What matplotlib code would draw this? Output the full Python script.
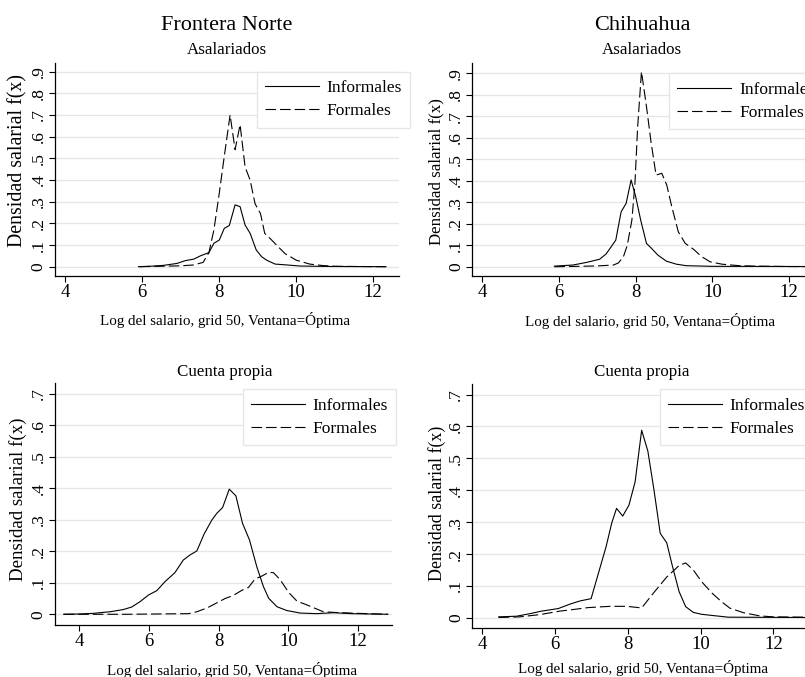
import matplotlib
matplotlib.use("Agg")
import matplotlib.pyplot as plt
import numpy as np

plt.rcParams['font.family'] = ['Liberation Serif', 'DejaVu Serif']

# ---------------- data ----------------
state_titles = ["Frontera Norte", "Chihuahua"]
panel_subtitles = ["Asalariados", "Cuenta propia"]
series_labels = ["Informales", "Formales"]
x_label = "Log del salario, grid 50, Ventana=Óptima"
y_label = "Densidad salarial f(x)"
x_ticks = [4, 6, 8, 10, 12]
y_ticks_top = [0, .1, .2, .3, .4, .5, .6, .7, .8, .9]
y_ticklabels_top = ["0", ".1", ".2", ".3", ".4", ".5", ".6", ".7", ".8", ".9"]
y_ticks_bot = [0, .1, .2, .3, .4, .5, .6, .7]
y_ticklabels_bot = ["0", ".1", ".2", ".3", ".4", ".5", ".6", ".7"]

# Frontera Norte - Asalariados
fn_asal_inf_x = [5.90, 6.20, 6.55, 6.90, 7.12, 7.34, 7.51, 7.73, 7.86, 8.00, 8.13, 8.26, 8.41, 8.54,
                 8.67, 8.80, 8.96, 9.10, 9.23, 9.45, 9.75, 10.10, 10.87, 12.33]
fn_asal_inf_y = [0.000, 0.002, 0.006, 0.015, 0.028, 0.035, 0.050, 0.065, 0.108, 0.123, 0.177, 0.190, 0.285, 0.277,
                 0.192, 0.154, 0.077, 0.046, 0.030, 0.012, 0.008, 0.003, 0.001, 0.000]
fn_asal_for_x = [5.93, 6.50, 7.00, 7.34, 7.58, 7.73, 7.86, 8.00, 8.13, 8.28, 8.41, 8.54, 8.67, 8.80,
                 8.93, 9.07, 9.18, 9.36, 9.53, 9.71, 10.00, 10.35, 10.70, 11.00, 11.50, 12.33]
fn_asal_for_y = [0.000, 0.002, 0.004, 0.008, 0.020, 0.065, 0.170, 0.340, 0.510, 0.700, 0.540, 0.655, 0.460, 0.400,
                 0.290, 0.245, 0.154, 0.123, 0.092, 0.060, 0.030, 0.012, 0.005, 0.002, 0.001, 0.000]

# Chihuahua - Asalariados
ch_asal_inf_x = [5.88, 6.36, 6.71, 7.06, 7.23, 7.36, 7.48, 7.62, 7.75, 7.88, 8.00, 8.13, 8.28, 8.41,
                 8.58, 8.80, 9.06, 9.32, 10.00, 12.90]
ch_asal_inf_y = [0.003, 0.008, 0.020, 0.035, 0.060, 0.093, 0.124, 0.256, 0.295, 0.404, 0.326, 0.217, 0.109, 0.086,
                 0.054, 0.026, 0.012, 0.005, 0.002, 0.001]
ch_asal_for_x = [5.88, 6.50, 7.00, 7.42, 7.55, 7.68, 7.78, 7.90, 7.98, 8.05, 8.15, 8.27, 8.40, 8.53,
                 8.68, 8.81, 8.94, 9.11, 9.29, 9.51, 9.72, 9.94, 10.25, 10.70, 11.10, 12.00, 12.90]
ch_asal_for_y = [0.000, 0.002, 0.004, 0.008, 0.018, 0.047, 0.100, 0.217, 0.388, 0.650, 0.908, 0.760, 0.580, 0.427,
                 0.435, 0.380, 0.280, 0.163, 0.109, 0.081, 0.047, 0.023, 0.012, 0.005, 0.003, 0.001, 0.001]

# Frontera Norte - Cuenta propia
fn_cp_inf_x = [3.55, 4.02, 4.40, 4.88, 5.26, 5.50, 5.74, 5.98, 6.22, 6.46, 6.74, 6.98, 7.17, 7.37,
               7.58, 7.80, 7.94, 8.11, 8.30, 8.49, 8.68, 8.88, 9.09, 9.28, 9.43, 9.67, 9.95, 10.33,
               10.80, 11.30, 11.80, 12.85]
fn_cp_inf_y = [0.000, 0.001, 0.003, 0.008, 0.015, 0.023, 0.040, 0.061, 0.075, 0.104, 0.132, 0.172, 0.188, 0.201,
               0.255, 0.299, 0.320, 0.339, 0.397, 0.376, 0.289, 0.236, 0.151, 0.088, 0.051, 0.024, 0.012, 0.004,
               0.002, 0.005, 0.002, 0.000]
fn_cp_for_x = [3.55, 5.35, 7.13, 7.37, 7.66, 7.94, 8.18, 8.42, 8.66, 8.85, 9.04, 9.23, 9.43, 9.57,
               9.76, 10.00, 10.24, 10.52, 11.00, 11.30, 12.00, 12.85]
fn_cp_for_y = [0.000, 0.000, 0.002, 0.008, 0.020, 0.036, 0.050, 0.060, 0.076, 0.085, 0.112, 0.121, 0.133, 0.132,
               0.110, 0.070, 0.042, 0.030, 0.008, 0.006, 0.003, 0.000]

# Chihuahua - Cuenta propia
ch_cp_inf_x = [4.45, 4.94, 5.31, 5.63, 6.09, 6.41, 6.69, 6.99, 7.19, 7.40, 7.56, 7.69, 7.86, 8.03,
               8.20, 8.38, 8.55, 8.72, 8.89, 9.07, 9.23, 9.41, 9.59, 9.80, 10.03, 10.35, 10.76, 12.90]
ch_cp_inf_y = [0.003, 0.005, 0.013, 0.021, 0.029, 0.043, 0.053, 0.060, 0.139, 0.222, 0.298, 0.343, 0.319, 0.353,
               0.426, 0.588, 0.523, 0.400, 0.265, 0.235, 0.160, 0.082, 0.035, 0.017, 0.011, 0.007, 0.002, 0.001]
ch_cp_for_x = [4.45, 5.03, 5.58, 6.13, 6.50, 6.91, 7.51, 7.97, 8.38, 8.70, 9.07, 9.41, 9.59, 9.80,
               10.03, 10.31, 10.58, 10.81, 11.18, 11.63, 12.00, 12.90]
ch_cp_for_y = [0.001, 0.003, 0.010, 0.021, 0.026, 0.032, 0.036, 0.036, 0.031, 0.077, 0.128, 0.164, 0.172, 0.150,
               0.113, 0.078, 0.050, 0.030, 0.016, 0.006, 0.003, 0.002]

# ---------------- layout ----------------
W, H = 805, 677
fig = plt.figure(figsize=(W / 100, H / 100), dpi=100)
fig.patch.set_facecolor("white")


def fx(px):
    return px / W


def fy(py):
    return 1 - py / H


def add_ax(l, t, r, b):
    return fig.add_axes([fx(l), fy(b), (r - l) / W, (b - t) / H])


GRID = "#e6e6e6"
DASH = (0, (9.5, 3.6))

panels = [
    dict(box=(55, 62.7, 399, 276), xlim=(3.73, 12.67), ylim=(-0.043, 0.941),
         yt=y_ticks_top, ytl=y_ticklabels_top,
         inf=(fn_asal_inf_x, fn_asal_inf_y), form=(fn_asal_for_x, fn_asal_for_y),
         sub=(panel_subtitles[0], 226.7, 50), xl=(225, 320), yl=(18, 160.5, 14.3),
         leg=(256.7, 71.7)),
    dict(box=(472.3, 62.7, 816, 276), xlim=(3.74, 12.70), ylim=(-0.043, 0.950),
         yt=y_ticks_top, ytl=y_ticklabels_top,
         inf=(ch_asal_inf_x, ch_asal_inf_y), form=(ch_asal_for_x, ch_asal_for_y),
         sub=(panel_subtitles[0], 642, 50), xl=(650, 321), yl=(436.7, 171.5, 12.2),
         leg=(669.3, 73.3)),
    dict(box=(55, 383.3, 392, 625), xlim=(3.30, 12.97), ylim=(-0.034, 0.733),
         yt=y_ticks_bot, ytl=y_ticklabels_bot,
         inf=(fn_cp_inf_x, fn_cp_inf_y), form=(fn_cp_for_x, fn_cp_for_y),
         sub=(panel_subtitles[1], 225, 372), xl=(231.7, 670), yl=(18, 498.8, 13.6),
         leg=(242.7, 389.3)),
    dict(box=(472.3, 384, 809, 627.7), xlim=(3.725, 12.98), ylim=(-0.031, 0.733),
         yt=y_ticks_bot, ytl=y_ticklabels_bot,
         inf=(ch_cp_inf_x, ch_cp_inf_y), form=(ch_cp_for_x, ch_cp_for_y),
         sub=(panel_subtitles[1], 642, 372), xl=(643, 668), yl=(436.7, 503.3, 12.9),
         leg=(660, 389.3)),
]

for p in panels:
    ax = add_ax(*p["box"])
    ax.set_facecolor("white")
    ax.plot(p["inf"][0], p["inf"][1], color="black", lw=0.8, ls="-",
            label=series_labels[0])
    ax.plot(p["form"][0], p["form"][1], color="black", lw=0.8, ls=DASH,
            label=series_labels[1])
    ax.set_xlim(*p["xlim"])
    ax.set_ylim(*p["ylim"])
    ax.set_xticks(x_ticks)
    ax.set_xticklabels([str(v) for v in x_ticks])
    ax.set_yticks(p["yt"])
    ax.set_yticklabels(p["ytl"], rotation=90, va="center")
    ax.yaxis.grid(True, color=GRID, lw=1.0)
    ax.xaxis.grid(False)
    ax.set_axisbelow(True)
    for s in ("top", "right"):
        ax.spines[s].set_visible(False)
    for s in ("left", "bottom"):
        ax.spines[s].set_linewidth(0.9)
        ax.spines[s].set_color("black")
    ax.tick_params(axis="both", direction="out", length=4, width=0.8,
                   colors="black")
    ax.tick_params(axis="x", pad=2, labelsize=13.5)
    ax.tick_params(axis="y", pad=2, labelsize=12.5)

    sub, sx, sy = p["sub"]
    fig.text(fx(sx), fy(sy), sub, ha="center", va="center", fontsize=12.2)
    fig.text(fx(p["xl"][0]), fy(p["xl"][1]), x_label, ha="center", va="center",
             fontsize=10.8)
    ylx, yly, yls = p["yl"]
    fig.text(fx(ylx), fy(yly), y_label, ha="center", va="center",
             rotation=90, fontsize=yls)

    lx, ly = p["leg"]
    leg = ax.legend(loc="upper left", bbox_to_anchor=(fx(lx), fy(ly)),
                    bbox_transform=fig.transFigure, fontsize=12.5,
                    frameon=True, fancybox=False, framealpha=1.0,
                    edgecolor="#e6e6e6", borderaxespad=0, borderpad=0.47,
                    handlelength=3.1, handletextpad=0.45, labelspacing=0.42)
    leg.get_frame().set_linewidth(1.0)

fig.text(fx(226.7), fy(26), state_titles[0], ha="center", va="center", fontsize=16)
fig.text(fx(642), fy(26), state_titles[1], ha="center", va="center", fontsize=16)

fig.savefig("out.png", dpi=100, facecolor="white")
